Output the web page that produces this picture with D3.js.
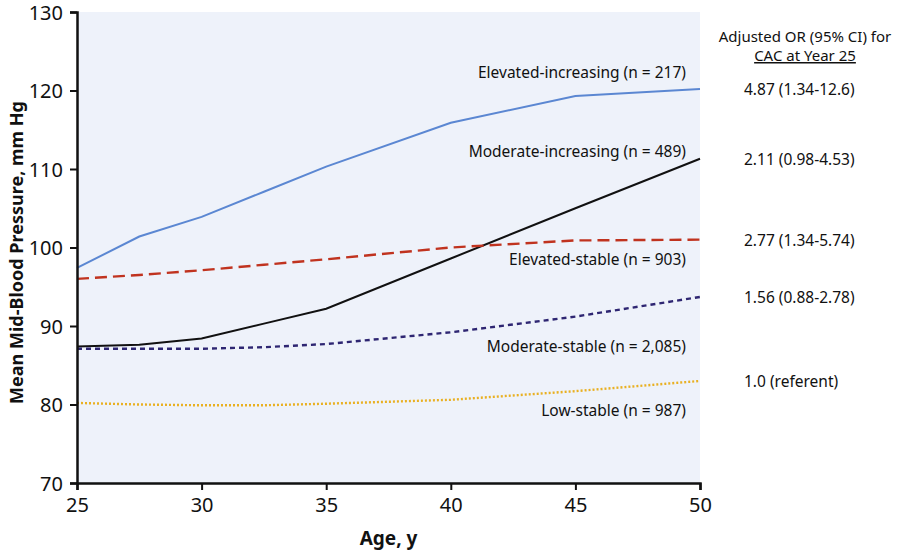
<!DOCTYPE html>
<html><head><meta charset="utf-8">
<script src="https://cdn.jsdelivr.net/npm/d3@7"></script>
<style>body{margin:0;background:#fff;}svg{display:block;font-family:"Noto Sans",sans-serif;}</style>
</head><body><svg id="c" width="898" height="551"></svg>
<script>
const ages = [25, 27.5, 30, 32.5, 35, 40, 45, 50];
const elevatedIncreasing = [97.4, 101.4, 103.9, 107.1, 110.3, 115.9, 119.3, 120.2];
const moderateIncreasing = [87.4, 87.6, 88.4, 90.3, 92.2, 98.6, 105.0, 111.3];
const elevatedStable = [96.0, 96.5, 97.1, 97.8, 98.5, 100.0, 100.9, 101.0];
const moderateStable = [87.1, 87.1, 87.1, 87.3, 87.7, 89.2, 91.2, 93.7];
const lowStable = [80.2, 80.0, 79.9, 79.9, 80.1, 80.6, 81.7, 83.0];
const seriesNames = ["Elevated-increasing (n = 217)", "Moderate-increasing (n = 489)", "Elevated-stable (n = 903)", "Moderate-stable (n = 2,085)", "Low-stable (n = 987)"];
const oddsRatios = ["4.87 (1.34-12.6)", "2.11 (0.98-4.53)", "2.77 (1.34-5.74)", "1.56 (0.88-2.78)", "1.0 (referent)"];
const xTicks = [25, 30, 35, 40, 45, 50];
const yTicks = [70, 80, 90, 100, 110, 120, 130];

const series = [
  {name: seriesNames[0], values: elevatedIncreasing, or: oddsRatios[0], color: "#5b87d2", dash: null, w: 2, labelY: 122.4},
  {name: seriesNames[1], values: moderateIncreasing, or: oddsRatios[1], color: "#111111", dash: null, w: 2, labelY: 112.3},
  {name: seriesNames[2], values: elevatedStable, or: oddsRatios[2], color: "#c0331f", dash: "12,6", w: 2.4, labelY: 98.5},
  {name: seriesNames[3], values: moderateStable, or: oddsRatios[3], color: "#2e2672", dash: "5,4", w: 2.4, labelY: 87.5},
  {name: seriesNames[4], values: lowStable, or: oddsRatios[4], color: "#e9b021", dash: "2,2", w: 2.4, labelY: 79.3}
];

const svg = d3.select("#c");
const x = d3.scaleLinear().domain([25, 50]).range([77, 700]);
const y = d3.scaleLinear().domain([70, 130]).range([483, 12]);

svg.append("rect").attr("x", x(25)).attr("y", y(130)).attr("width", x(50) - x(25)).attr("height", y(70) - y(130)).attr("fill", "#eef2fa");

const line = d3.line().x((d, i) => x(ages[i])).y(d => y(d));
series.forEach(s => {
  svg.append("path").datum(s.values).attr("d", line).attr("fill", "none")
    .attr("stroke", s.color).attr("stroke-width", s.w)
    .attr("stroke-dasharray", s.dash);
  svg.append("text").attr("x", 686).attr("y", y(s.labelY)).attr("text-anchor", "end")
    .attr("dominant-baseline", "central").attr("font-size", 15.5).attr("fill", "#111").text(s.name);
  svg.append("text").attr("x", 744).attr("y", y(s.values[s.values.length - 1])).attr("dominant-baseline", "central")
    .attr("font-size", 15.5).attr("fill", "#111").text(s.or);
});

const xAxis = svg.append("g").attr("transform", `translate(0,${y(70)})`)
  .call(d3.axisBottom(x).tickValues(xTicks).tickSize(7).tickPadding(8));
const yAxis = svg.append("g").attr("transform", `translate(${x(25)},0)`)
  .call(d3.axisLeft(y).tickValues(yTicks).tickSize(7).tickPadding(7));
[xAxis, yAxis].forEach(g => {
  g.select(".domain").attr("stroke", "#111").attr("stroke-width", 2.5);
  g.selectAll(".tick line").attr("stroke", "#111").attr("stroke-width", 2);
  g.selectAll(".tick text").attr("font-size", 20).attr("fill", "#111").attr("font-family", "Noto Sans, sans-serif");
});
yAxis.selectAll(".tick text").attr("dy", "0.36em");

svg.append("text").attr("x", (x(25) + x(50)) / 2).attr("y", 545).attr("text-anchor", "middle")
  .attr("font-size", 19).attr("font-weight", "bold").attr("fill", "#111").text("Age, y");
svg.append("text").attr("transform", `translate(23,${(y(70) + y(130)) / 2 + 5}) rotate(-90)`).attr("text-anchor", "middle")
  .attr("font-size", 18).attr("font-weight", "bold").attr("fill", "#111").text("Mean Mid-Blood Pressure, mm Hg");

svg.append("text").attr("x", 805).attr("y", 42).attr("text-anchor", "middle").attr("font-size", 15).attr("fill", "#111").text("Adjusted OR (95% CI) for");
svg.append("text").attr("x", 805).attr("y", 61).attr("text-anchor", "middle").attr("font-size", 15).attr("fill", "#111")
  .attr("text-decoration", "underline").text("CAC at Year 25");
</script></body></html>
